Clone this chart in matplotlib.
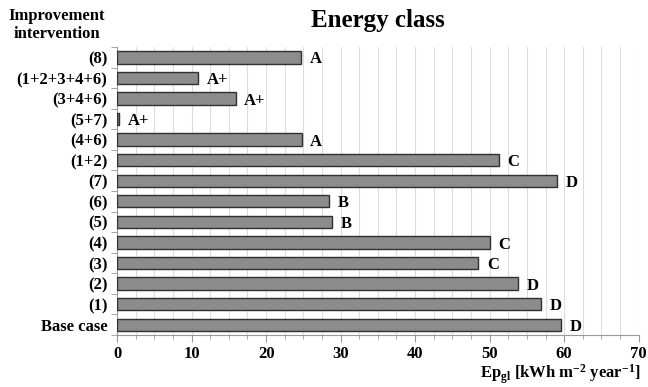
import matplotlib
matplotlib.use("Agg")
import matplotlib.pyplot as plt
import numpy as np

categories = ["Base case", "(1)", "(2)", "(3)", "(4)", "(5)", "(6)", "(7)", "(1+2)",
              "(4+6)", "(5+7)", "(3+4+6)", "(1+2+3+4+6)", "(8)"]
values = [59.6, 56.9, 53.8, 48.5, 50.1, 28.9, 28.5, 59.1, 51.2,
          24.8, 0.3, 15.9, 10.9, 24.7]
classes = ["D", "D", "D", "C", "C", "B", "B", "D", "C",
           "A", "A+", "A+", "A+", "A"]

plt.rcParams['font.family'] = ['Liberation Serif', 'DejaVu Serif']
plt.rcParams['font.weight'] = 'bold'
plt.rcParams['mathtext.fontset'] = 'custom'
plt.rcParams['mathtext.rm'] = 'Liberation Serif:bold'
plt.rcParams['mathtext.bf'] = 'Liberation Serif:bold'
plt.rcParams['mathtext.it'] = 'Liberation Serif:bold'

fig = plt.figure(figsize=(6.48, 3.87), dpi=100)
ax = fig.add_axes([0.1806, 0.1344, 0.805, 0.744])

y = np.arange(len(categories))
ax.barh(y, values, height=0.6, color='#8c8c8c', edgecolor='#303030', linewidth=1.0, zorder=3)
for yi, v, c in zip(y, values, classes):
    ax.annotate(c, (v, yi), xytext=(6, -1.5), textcoords='offset points',
                ha='left', va='center', fontsize=12, fontweight='bold')

ax.set_xlim(0, 70)
ax.set_ylim(-0.5, len(categories) - 0.5)
ax.set_xticks(np.arange(0, 71, 10))
ax.set_xticks(np.arange(0, 70.1, 2.5), minor=True)
ax.set_yticks(y)
ax.set_yticklabels(categories, fontsize=12, fontweight='bold')
ax.set_yticks(np.arange(-0.5, len(categories), 1), minor=True)
ax.tick_params(axis='y', which='major', length=0, pad=7)
ax.tick_params(axis='y', which='minor', length=4, color='#999999')
ax.tick_params(axis='x', which='major', length=5, color='#999999', labelsize=12, pad=3)
ax.tick_params(axis='x', which='minor', length=3, color='#999999')
for lbl in ax.get_xticklabels():
    lbl.set_fontweight('bold')

ax.grid(axis='x', which='both', color='#dddddd', linewidth=0.8, zorder=0)
ax.spines['top'].set_visible(False)
ax.spines['right'].set_visible(False)
ax.spines['left'].set_color('#999999')
ax.spines['bottom'].set_color('#999999')

fig.text(0.583, 0.948, "Energy class", ha='center', va='center', fontsize=18, fontweight='bold')
fig.text(0.088, 0.935, "Improvement\nintervention", ha='center', va='center', fontsize=12,
         fontweight='bold', linespacing=1.15)
fig.text(0.988, 0.003, r"Ep$_{\mathrm{gl}}$ [kWh m$^{\mathrm{-2}}$ year$^{\mathrm{-1}}$]",
         ha='right', va='bottom', fontsize=12, fontweight='bold')

fig.savefig("out.png", dpi=100)
